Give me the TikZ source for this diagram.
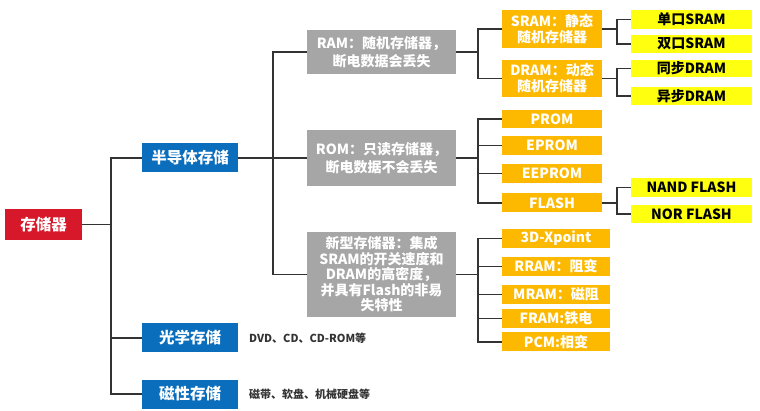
\documentclass[tikz,border=0pt]{standalone}
\usepackage{fontspec}
\setmainfont{Noto Sans CJK SC}
\usetikzlibrary{positioning}
\definecolor{rootred}{HTML}{D7182A}
\definecolor{catblue}{HTML}{0A6EBD}
\definecolor{descgray}{HTML}{A6A6A6}
\definecolor{typeorange}{HTML}{FDB900}
\definecolor{leafyellow}{HTML}{FFFF10}
\definecolor{linkgray}{HTML}{333333}
\tikzset{
  box/.style={
    rectangle,
    inner sep=0pt,
    align=center,
    text=white
  },
  rootbox/.style={box, fill=rootred, minimum width=77pt, minimum height=31pt,
    font=\bfseries\fontsize{15.5}{17}\selectfont},
  catbox/.style={box, fill=catblue, minimum width=96pt, minimum height=29pt,
    font=\bfseries\fontsize{15.5}{17}\selectfont},
  descbox/.style={box, fill=descgray, minimum width=149pt,
    font=\bfseries\fontsize{14}{18}\selectfont},
  typebox/.style={box, fill=typeorange, minimum width=100pt, minimum height=19pt,
    font=\bfseries\fontsize{14}{16}\selectfont},
  leafbox/.style={box, fill=leafyellow, text=black, minimum width=121pt, minimum height=18pt,
    font=\bfseries\fontsize{14}{16}\selectfont},
  note/.style={anchor=west, inner sep=0pt, text=linkgray,
    font=\bfseries\fontsize{11}{13}\selectfont},
  link/.style={draw=linkgray, line width=1.5pt}
}
\begin{document}
\begin{tikzpicture}[x=1pt, y=-1pt]
        \useasboundingbox (0,0) rectangle (760,411);
        % level 0 and 1
        \node[rootbox] (root) at (43.5,224.5) {存储器};
        \node[catbox] (semi) at (190,158) {半导体存储};
        \node[catbox] (opt) at (190,338) {光学存储};
        \node[catbox] (mag) at (190,394) {磁性存储};
        \node[note] (optnote) at (249,338) {DVD、CD、CD-ROM等};
        \node[note] (magnote) at (249,394) {磁带、软盘、机械硬盘等};

        % level 2
        \node[descbox, minimum height=44pt] (ram) at (381.5,52) {RAM：随机存储器，\\断电数据会丢失};
        \node[descbox, minimum height=56pt] (rom) at (381.5,158) {ROM：只读存储器，\\断电数据不会丢失};
        \node[descbox, minimum height=85pt, font=\bfseries\fontsize{14}{15.5}\selectfont] (newm) at (381.5,274.5)
          {新型存储器：集成\\SRAM的开关速度和\\DRAM的高密度，\\并具有Flash的非易\\失特性};

        % level 3
        \node[typebox, minimum height=38pt] (sram) at (552,29) {SRAM：静态\\随机存储器};
        \node[typebox, minimum height=37pt] (dram) at (552,78.5) {DRAM：动态\\随机存储器};
        \node[typebox, minimum height=18pt] (prom) at (552,119) {PROM};
        \node[typebox] (eprom) at (552,145.5) {EPROM};
        \node[typebox] (eeprom) at (552,173.5) {EEPROM};
        \node[typebox] (flash) at (552,203) {FLASH};
        \node[typebox, minimum width=108pt] (xpoint) at (556,238.5) {3D-Xpoint};
        \node[typebox, minimum width=108pt] (rram) at (556,266.5) {RRAM：阻变};
        \node[typebox, minimum width=108pt] (mram) at (556,294.5) {MRAM：磁阻};
        \node[typebox, minimum width=108pt] (fram) at (556,318.5) {FRAM:铁电};
        \node[typebox, minimum width=108pt] (pcm) at (556,342) {PCM:相变};

        % level 4
        \node[leafbox, minimum height=19pt] (sram1) at (691.5,19.5) {单口SRAM};
        \node[leafbox] (sram2) at (691.5,44) {双口SRAM};
        \node[leafbox, minimum height=17pt] (dram1) at (691.5,68.5) {同步DRAM};
        \node[leafbox] (dram2) at (691.5,96) {异步DRAM};
        \node[leafbox, minimum height=19pt] (nand) at (691.5,187.5) {NAND FLASH};
        \node[leafbox] (nor) at (691.5,214) {NOR FLASH};

        % junctions
        \coordinate (j1) at (111,224.5);
        \coordinate (j2) at (273,158);
        \coordinate (j3) at (478,52);
        \coordinate (j4) at (478,158);
        \coordinate (j5) at (478,274.5);
        \coordinate (j6) at (617,29);
        \coordinate (j7) at (617,78.5);
        \coordinate (j8) at (617,203);

        \draw[link] (root) -- (j1);
        \foreach \c in {semi, opt, mag} \draw[link] (j1) |- (\c);
        \draw[link] (semi) -- (j2);
        \foreach \c in {ram, rom, newm} \draw[link] (j2) |- (\c);
        \draw[link] (ram) -- (j3);
        \foreach \c in {sram, dram} \draw[link] (j3) |- (\c);
        \draw[link] (rom) -- (j4);
        \foreach \c in {prom, eprom, eeprom, flash} \draw[link] (j4) |- (\c);
        \draw[link] (newm) -- (j5);
        \foreach \c in {xpoint, rram, mram, fram, pcm} \draw[link] (j5) |- (\c);
        \draw[link] (sram) -- (j6);
        \foreach \c in {sram1, sram2} \draw[link] (j6) |- (\c);
        \draw[link] (dram) -- (j7);
        \foreach \c in {dram1, dram2} \draw[link] (j7) |- (\c);
        \draw[link] (flash) -- (j8);
        \foreach \c in {nand, nor} \draw[link] (j8) |- (\c);
      \end{tikzpicture}
\end{document}
